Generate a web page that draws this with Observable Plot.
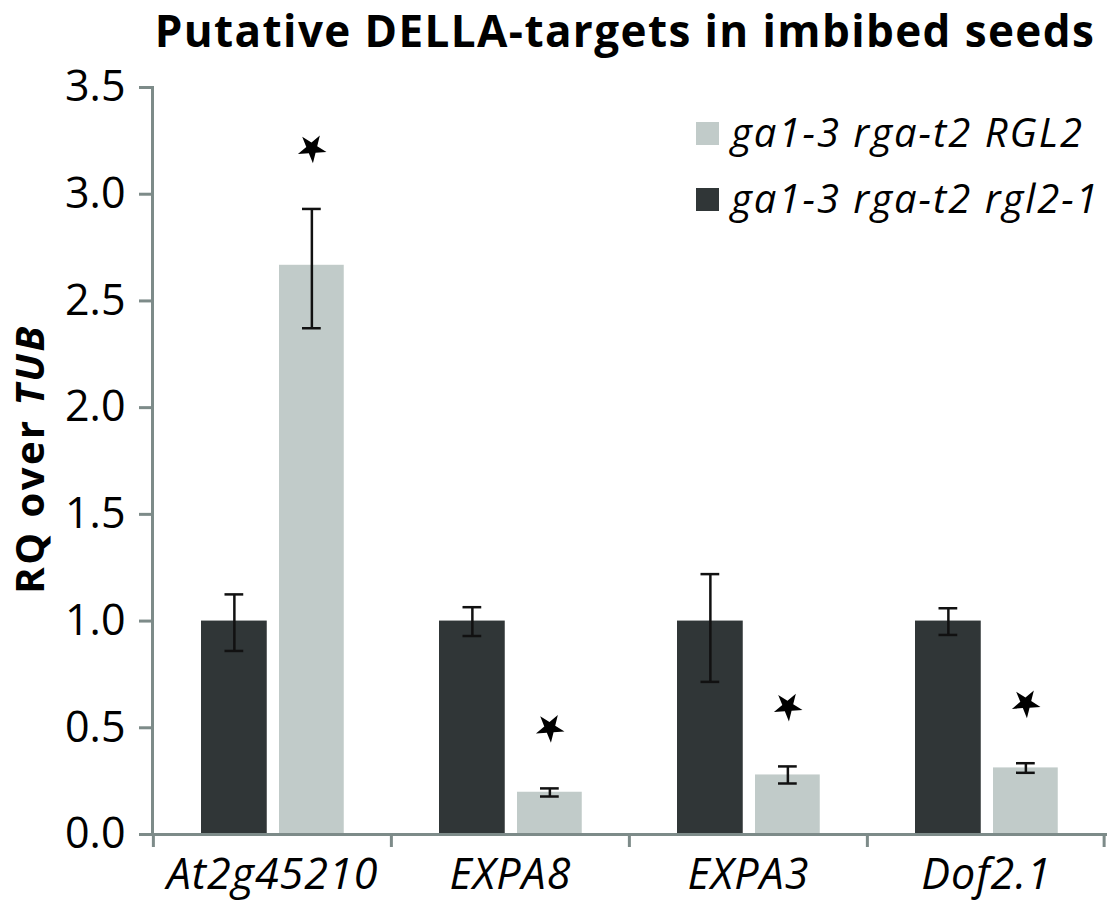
<!DOCTYPE html>
<html>
<head>
<meta charset="utf-8">
<script src="https://cdn.jsdelivr.net/npm/d3@7"></script>
<script src="https://cdn.jsdelivr.net/npm/@observablehq/plot@0.6"></script>
<style>
  html, body { margin: 0; padding: 0; background: #fff; }
  #wrap { position: relative; width: 1107px; height: 903px; font-family: "Open Sans", sans-serif; overflow: hidden; }
  #chart { position: absolute; left: 0; top: 0; }
  #title { position: absolute; top: 0px; left: 152px; width: 946px; text-align: center; font-weight: 700; font-size: 44px; line-height: normal; letter-spacing: 1.4px; color: #000; white-space: nowrap; }
  .sw { position: absolute; left: 696px; width: 23px; height: 23px; }
  .tx { position: absolute; left: 731px; font-style: italic; font-size: 40px; line-height: 1; letter-spacing: 2px; color: #000; white-space: nowrap; }
</style>
</head>
<body>
<div id="wrap">
  <div id="chart"></div>
  <div id="title">Putative DELLA-targets in imbibed seeds</div>
  <div id="legend"></div>
</div>
<script>
// ---- data ----
const genes = ["At2g45210", "EXPA8", "EXPA3", "Dof2.1"];
const seriesNames = ["ga1-3 rga-t2 rgl2-1", "ga1-3 rga-t2 RGL2"];
const mutantValues = [1.0, 1.0, 1.0, 1.0];          // ga1-3 rga-t2 rgl2-1 (dark)
const mutantLow    = [0.86, 0.93, 0.715, 0.935];
const mutantHigh   = [1.125, 1.065, 1.22, 1.06];
const wildValues   = [2.667, 0.198, 0.279, 0.312];  // ga1-3 rga-t2 RGL2 (light)
const wildLow      = [2.372, 0.178, 0.239, 0.289];
const wildHigh     = [2.931, 0.216, 0.319, 0.334];
const starY        = [3.215, 0.50, 0.60, 0.615];
const yTicks = [0, 0.5, 1.0, 1.5, 2.0, 2.5, 3.0, 3.5];

const darkColor = "#303637";
const lightColor = "#c1cbc9";
const axisColor = "#7d8b89";

const dark = genes.map((g, i) => ({gene: g, value: mutantValues[i], lo: mutantLow[i], hi: mutantHigh[i]}));
const light = genes.map((g, i) => ({gene: g, value: wildValues[i], lo: wildLow[i], hi: wildHigh[i], star: starY[i]}));

const W = 1107, H = 903, mL = 152, mR = 2, mT = 87, mB = 69;
const bw = (W - mL - mR) / genes.length;
// positions within each band
const dL = 48, dW = 66, lL = 126, lW = 65, cap = 19;
const dC = dL + dW / 2, lC = lL + lW / 2;

const plot = Plot.plot({
  width: W, height: H,
  marginLeft: mL, marginRight: mR, marginTop: mT, marginBottom: mB,
  style: {fontFamily: "'Open Sans', sans-serif", color: "#000", background: "transparent", overflow: "visible"},
  x: {domain: genes, padding: 0, label: null},
  y: {domain: [0, 3.5], label: null},
  marks: [
    Plot.barY(dark, {x: "gene", y: "value", fill: darkColor, insetLeft: dL, insetRight: bw - dL - dW}),
    Plot.barY(light, {x: "gene", y: "value", fill: lightColor, insetLeft: lL, insetRight: bw - lL - lW}),
    Plot.ruleX(dark, {x: "gene", y1: "lo", y2: "hi", dx: dC - bw / 2, stroke: "#111", strokeWidth: 2.5}),
    Plot.ruleX(light, {x: "gene", y1: "lo", y2: "hi", dx: lC - bw / 2, stroke: "#111", strokeWidth: 2.5}),
    Plot.tickY(dark, {x: "gene", y: "lo", insetLeft: dC - cap / 2, insetRight: bw - dC - cap / 2, stroke: "#111", strokeWidth: 2.5}),
    Plot.tickY(dark, {x: "gene", y: "hi", insetLeft: dC - cap / 2, insetRight: bw - dC - cap / 2, stroke: "#111", strokeWidth: 2.5}),
    Plot.tickY(light, {x: "gene", y: "lo", insetLeft: lC - cap / 2, insetRight: bw - lC - cap / 2, stroke: "#111", strokeWidth: 2.5}),
    Plot.tickY(light, {x: "gene", y: "hi", insetLeft: lC - cap / 2, insetRight: bw - lC - cap / 2, stroke: "#111", strokeWidth: 2.5}),
    Plot.dot(light, {x: "gene", y: "star", dx: lC - bw / 2, symbol: "star", r: 9, fill: "#000", stroke: "none", rotate: 32}),
    Plot.frame({anchor: "left", stroke: axisColor, strokeWidth: 3}),
    Plot.frame({anchor: "bottom", stroke: axisColor, strokeWidth: 3}),
    Plot.ruleX(genes, {x: d => d, y1: 0, y2: 0, insetBottom: -13, dx: -bw / 2, stroke: axisColor, strokeWidth: 3}),
    Plot.ruleX([genes[genes.length - 1]], {x: d => d, y1: 0, y2: 0, insetBottom: -13, dx: bw / 2 - 1.5, stroke: axisColor, strokeWidth: 3}),
    Plot.axisY({ticks: yTicks, tickFormat: d3.format(".1f"), tickSize: 13, tickPadding: 14, stroke: axisColor, strokeWidth: 3, fill: "#000", fontSize: 43, label: null}),
    Plot.axisX({tickSize: 0, tickPadding: 24, fontSize: 43, fontStyle: "italic", fill: "#000", label: null})
  ]
});
document.getElementById("chart").appendChild(plot);
// letter spacing for category labels
d3.select(plot).selectAll("g[aria-label='x-axis tick label'] text").attr("letter-spacing", 1);

// y-axis label with italic TUB
const svg = d3.select(plot);
const lab = svg.append("text")
  .attr("transform", `translate(44, 459) rotate(-90)`)
  .attr("text-anchor", "middle")
  .attr("font-family", "'Open Sans', sans-serif")
  .attr("font-size", 40)
  .attr("font-weight", 700)
  .attr("letter-spacing", 2.5)
  .attr("fill", "#000");
lab.append("tspan").text("RQ over ");
lab.append("tspan").attr("font-style", "italic").text("TUB");

// legend
const legendItems = [
  {name: seriesNames[1], color: lightColor, top: 122},
  {name: seriesNames[0], color: darkColor, top: 188}
];
const legend = document.getElementById("legend");
legendItems.forEach(it => {
  const sw = document.createElement("div");
  sw.className = "sw";
  sw.style.top = it.top + "px";
  sw.style.background = it.color;
  const tx = document.createElement("div");
  tx.className = "tx";
  tx.style.top = (it.top - 10) + "px";
  tx.textContent = it.name;
  legend.appendChild(sw);
  legend.appendChild(tx);
});
</script>
</body>
</html>
